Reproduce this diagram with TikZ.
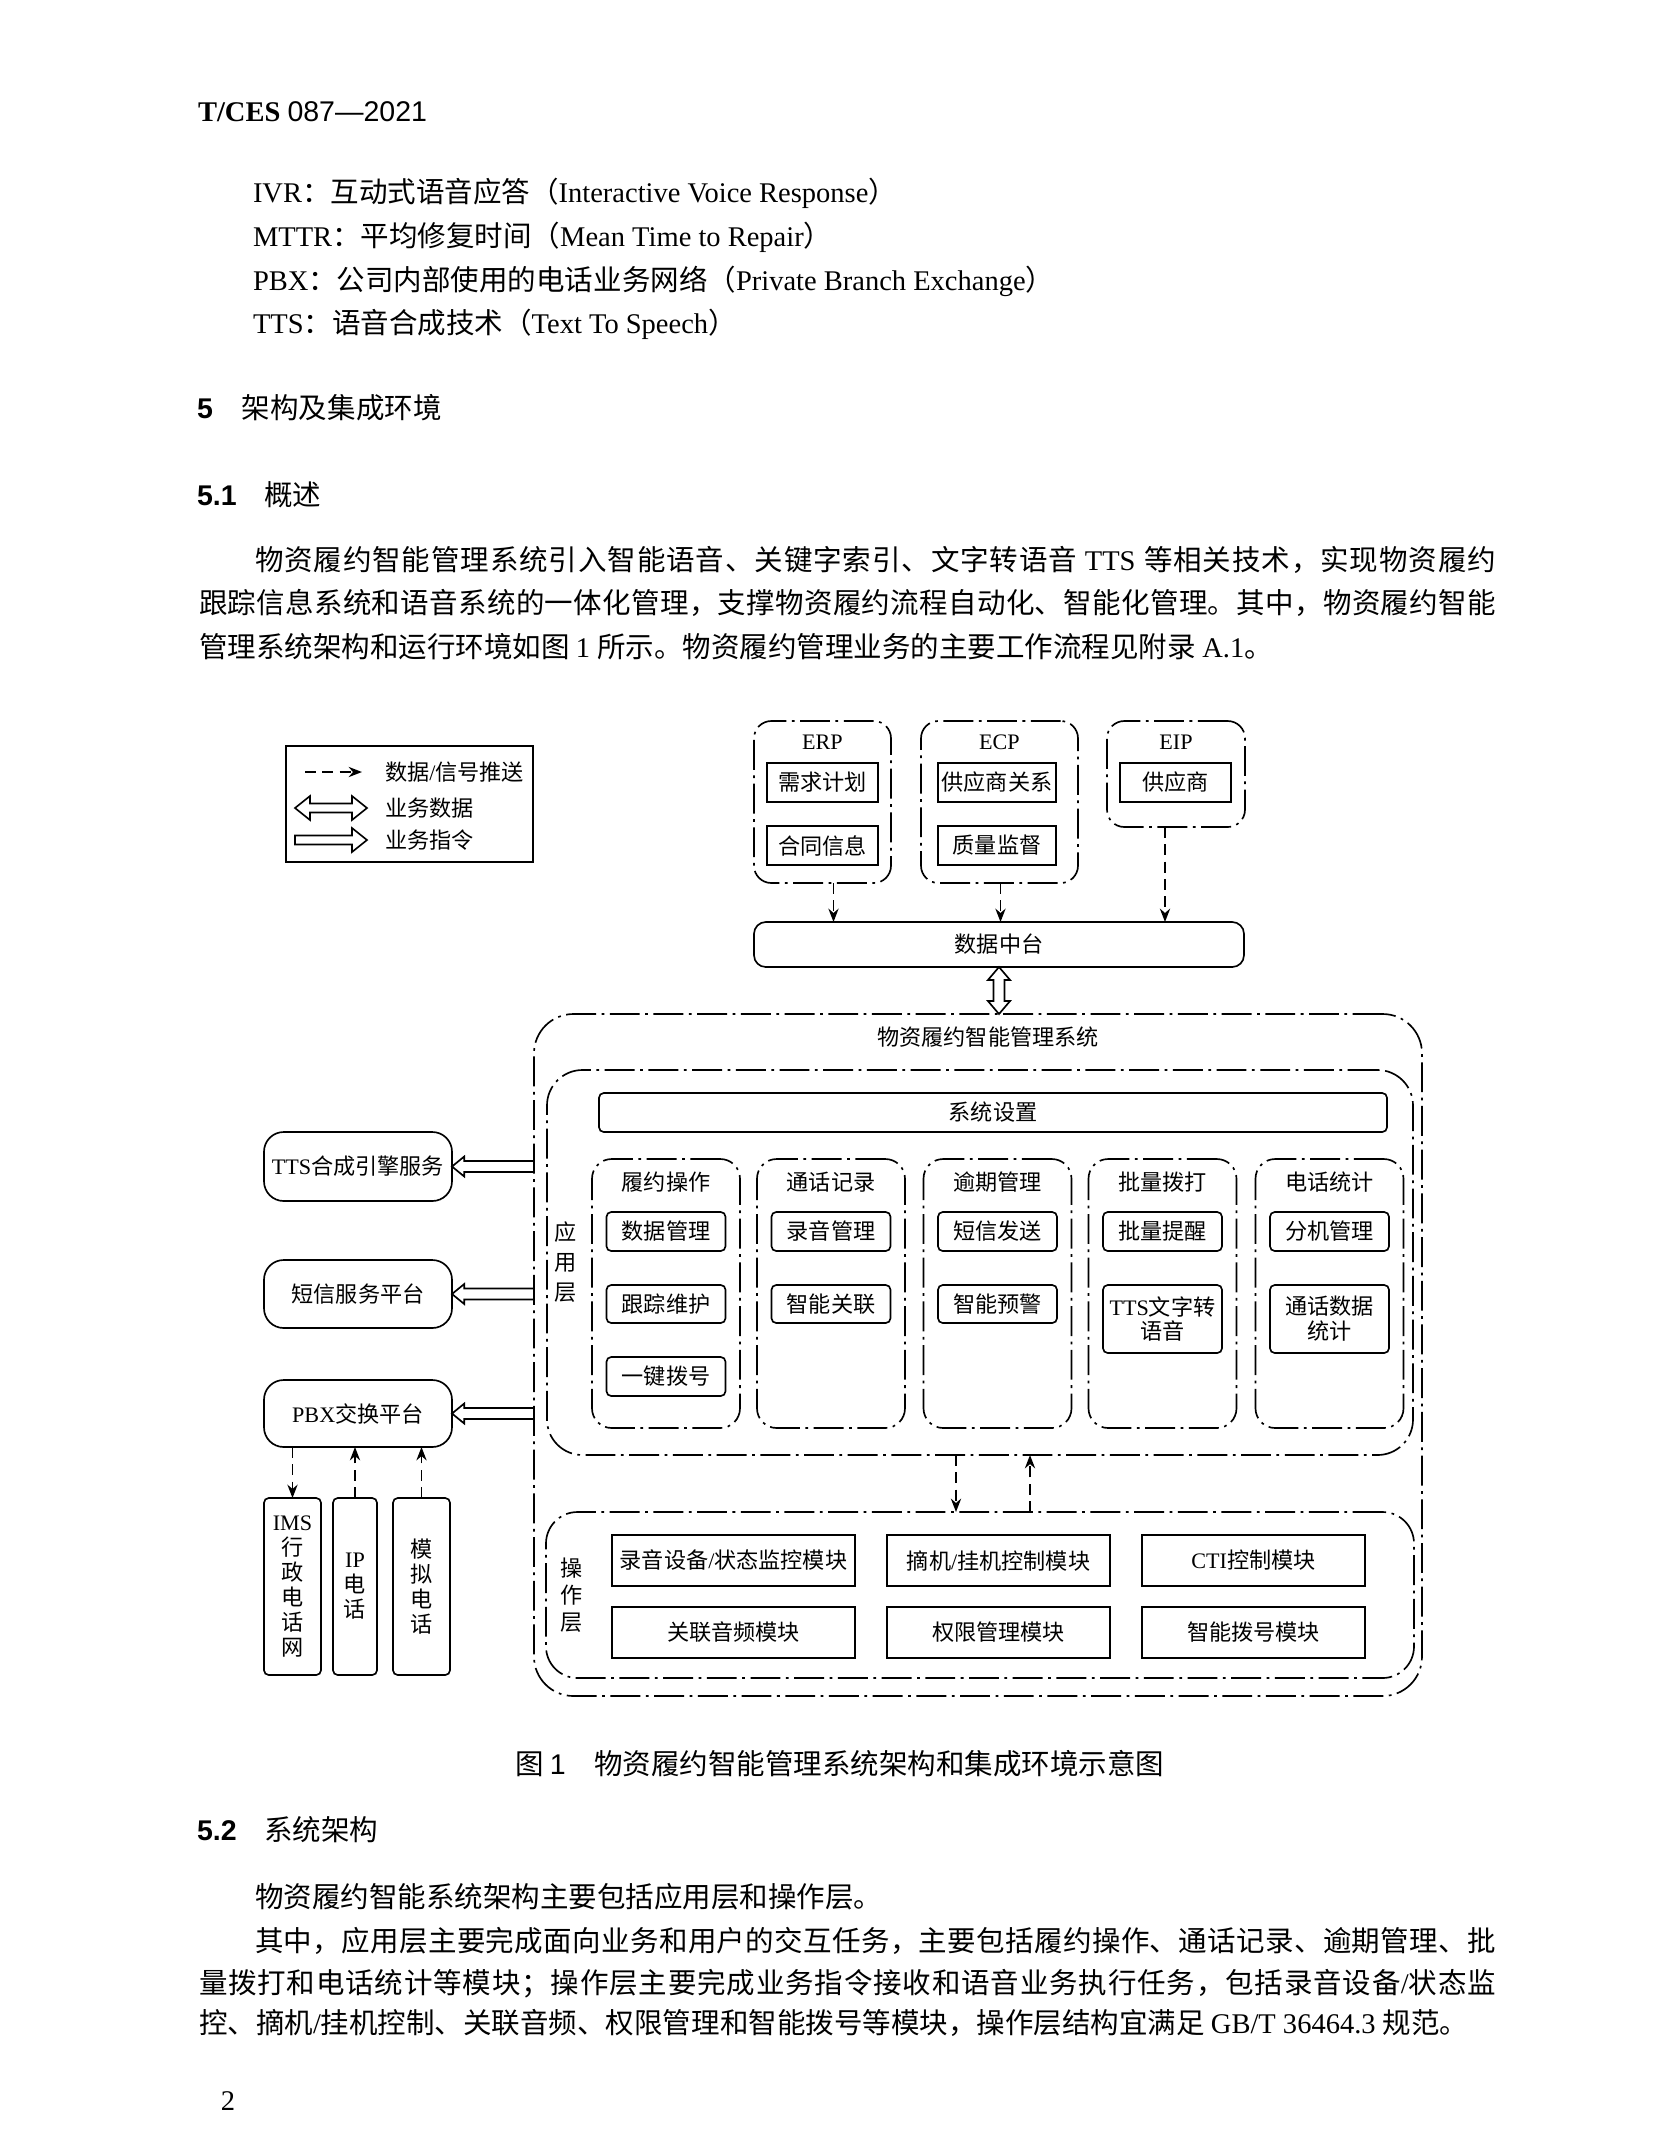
\documentclass[tikz,border=0pt]{standalone}
\usepackage{fontspec}
\setmainfont{Liberation Serif}
\setsansfont{Liberation Sans}
\newfontfamily\cjkfont{Noto Sans CJK SC}
\newcommand\latfam{\rmfamily}
\XeTeXinterchartokenstate=1
\newXeTeXintercharclass\cjkcls
\newcount\cjkcnt
\newcommand\setcjkrange[2]{\cjkcnt=#1\relax
  \loop\XeTeXcharclass\cjkcnt=\cjkcls\relax
  \ifnum\cjkcnt<#2\relax\advance\cjkcnt by 1\relax\repeat}
\setcjkrange{"3000}{"303F}
\setcjkrange{"4E00}{"9FFF}
\setcjkrange{"FF00}{"FFEF}
\XeTeXinterchartoks 0 \cjkcls = {\cjkfont}
\XeTeXinterchartoks 4095 \cjkcls = {\cjkfont}
\XeTeXinterchartoks \cjkcls 0 = {\latfam}
\XeTeXinterchartoks 4095 0 = {\latfam}
\XeTeXinterchartoks \cjkcls \cjkcls = {\hskip 0pt plus 0.8pt\relax}
\usetikzlibrary{arrows.meta,calc}
\newcommand\bfnt{\fontsize{10.3pt}{12pt}\selectfont}
\newcommand\hfnt{\def\latfam{\sffamily}\sffamily\fontsize{10.3pt}{12pt}\selectfont}
\newcommand\openL[2]{\draw[ln] let \p1=#1, \p2=#2 in
  (\x2,\y1+2pt) -- (\x1+4.4pt,\y1+2pt) -- (\x1+4.4pt,\y1+3.6pt) -- (\x1,\y1)
  -- (\x1+4.4pt,\y1-3.6pt) -- (\x1+4.4pt,\y1-2pt) -- (\x2,\y1-2pt);}
\begin{document}
\begin{tikzpicture}[x=0.127mm,y=-0.127mm,
  every node/.style={inner sep=0pt,outer sep=0pt},
  ln/.style={line width=0.6pt},
  sz/.style 2 args={minimum width={#1*0.127mm},minimum height={#2*0.127mm}},
  dfnt/.style={font=\fontsize{8pt}{9pt}\selectfont},
  sbox/.style={draw,ln,dfnt,align=center},
  ibox/.style={sbox,rounded corners=0.6mm},
  ddash/.style={ln,dash pattern=on 3.8mm off 0.7mm on 0.35mm off 0.7mm},
  grp/.style={draw,ddash,rounded corners=2.2mm},
  dar/.style={ln,dash pattern=on 1.4mm off 0.8mm,-{Stealth[length=1.7mm,width=1.3mm]}},
  tl/.style={anchor=west,text height=9.06pt,text depth=1.24pt,font=\bfnt}]
\fill[white] (0,0) rectangle (1654,2148);
\useasboundingbox (0,0) rectangle (1654,2148);

% ---------- page text ----------
\node[tl] (hdr) at (198,111) {{\bfseries T/CES} {\def\latfam{\sffamily}\sffamily 087—2021}};
\node[tl] (ab1) at (253,192) {IVR：互动式语音应答（Interactive Voice Response）};
\node[tl] (ab2) at (253,236) {MTTR：平均修复时间（Mean Time to Repair）};
\node[tl] (ab3) at (253,280) {PBX：公司内部使用的电话业务网络（Private Branch Exchange）};
\node[tl] (ab4) at (253,323) {TTS：语音合成技术（Text To Speech）};
\node[tl,font=\hfnt] (h5) at (197,408) {{\bfseries 5}\hspace{3.7mm}架构及集成环境};
\node[tl,font=\hfnt] (h51) at (197,495) {{\bfseries 5.1}\hspace{3.5mm}概述};
\node[tl] (p1) at (255,560) {\makebox[157.6mm][s]{物资履约智能管理系统引入智能语音、关键字索引、文字转语音 TTS 等相关技术，实现物资履约}};
\node[tl] (p2) at (199,603) {\makebox[164.7mm][s]{跟踪信息系统和语音系统的一体化管理，支撑物资履约流程自动化、智能化管理。其中，物资履约智能}};
\node[tl] (p3) at (199,647) {管理系统架构和运行环境如图 1 所示。物资履约管理业务的主要工作流程见附录 A.1。};
\node[tl,font=\hfnt] (cap) at (515,1764) {图 1\hspace{1em}物资履约智能管理系统架构和集成环境示意图};
\node[tl,font=\hfnt] (h52) at (197,1830) {{\bfseries 5.2}\hspace{3.5mm}系统架构};
\node[tl] (q1) at (255,1897) {物资履约智能系统架构主要包括应用层和操作层。};
\node[tl] (q2) at (255,1941) {\makebox[157.6mm][s]{其中，应用层主要完成面向业务和用户的交互任务，主要包括履约操作、通话记录、逾期管理、批}};
\node[tl] (q3) at (199,1983) {\makebox[164.7mm][s]{量拨打和电话统计等模块；操作层主要完成业务指令接收和语音业务执行任务，包括录音设备/状态监}};
\node[tl] (q4) at (199,2023) {控、摘机/挂机控制、关联音频、权限管理和智能拨号等模块，操作层结构宜满足 GB/T 36464.3 规范。};
\node[font=\bfnt] (pg) at (228,2101) {2};

% ---------- legend ----------
\node[draw,ln,sz={247}{116}] (leg) at (409.5,804) {};
\coordinate (l1a) at (305,772); \coordinate (l1b) at (362,772);
\draw[dar] (l1a) -- (l1b);
\coordinate (l2) at (295,808);
\draw[ln] (l2) -- ++(15,-12) -- ++(0,7.5) -- ++(42,0) -- ++(0,-7.5) -- ++(15,12)
  -- ++(-15,12) -- ++(0,-7.5) -- ++(-42,0) -- ++(0,7.5) -- cycle;
\coordinate (l3) at (295,840);
\draw[ln] (l3) ++(0,-4.5) -- ++(57,0) -- ++(0,-7.5) -- ++(15,12) -- ++(-15,12)
  -- ++(0,-7.5) -- ++(-57,0) -- cycle;
\node[anchor=west,dfnt] (lt1) at (385,772) {数据/信号推送};
\node[anchor=west,dfnt] (lt2) at (385,808) {业务数据};
\node[anchor=west,dfnt] (lt3) at (385,840) {业务指令};

% ---------- top systems ----------
\node[grp,sz={137}{162}] (erp) at (822.5,802) {};
\node[dfnt] (erpl) at (822.5,742) {ERP};
\node[sbox,sz={111}{39}] (erp1) at (822.5,782.5) {需求计划};
\node[sbox,sz={111}{39}] (erp2) at (822.5,845.5) {合同信息};
\node[grp,sz={157}{162}] (ecp) at (999.5,802) {};
\node[dfnt] (ecpl) at (999.5,742) {ECP};
\node[sbox,sz={118}{39}] (ecp1) at (997,782.5) {供应商关系};
\node[sbox,sz={118}{39}] (ecp2) at (997,845.5) {质量监督};
\node[grp,sz={138}{106}] (eip) at (1176,774) {};
\node[dfnt] (eipl) at (1176,742) {EIP};
\node[sbox,sz={111}{39}] (eip1) at (1175.5,782.5) {供应商};
\node[sbox,rounded corners=1.5mm,sz={490}{45}] (dz) at (999,944.5) {数据中台};
\coordinate (ea) at ($(erp.south)+(11,0)$);
\coordinate (ca) at ($(ecp.south)+(1,0)$);
\coordinate (ia) at ($(eip.south)+(-11,0)$);
\draw[dar] (ea) -- (ea |- dz.north);
\draw[dar] (ca) -- (ca |- dz.north);
\draw[dar] (ia) -- (ia |- dz.north);

% ---------- main system ----------
\node[draw,ddash,rounded corners=5mm,sz={888}{682}] (sys) at (978,1355) {};
\draw[ln] let \p1=(dz.south), \p2=(sys.north) in
  (\x1,\y1) -- (\x1+4pt,\y1-4.7pt) -- (\x1+2pt,\y1-4.7pt) -- (\x1+2pt,\y2+4.7pt)
  -- (\x1+4pt,\y2+4.7pt) -- (\x1,\y2) -- (\x1-4pt,\y2+4.7pt) -- (\x1-2pt,\y2+4.7pt)
  -- (\x1-2pt,\y1-4.7pt) -- (\x1-4pt,\y1-4.7pt) -- cycle;
\node[dfnt] (syst) at (988,1037) {物资履约智能管理系统};
\node[draw,ddash,rounded corners=4.5mm,sz={866}{385}] (app) at (980,1262.5) {};
\node[font=\fontsize{8pt}{10.7pt}\selectfont,align=center] (appl) at (566,1262) {应\\用\\层};
\node[ibox,sz={788}{39}] (set) at (993,1112.5) {系统设置};

\node[grp,rounded corners=2.5mm,sz={148}{269}] (g1) at (666,1293.5) {};
\node[dfnt] (g1t) at (666,1182) {履约操作};
\node[ibox,sz={119}{39}] (g1a) at (666,1231.5) {数据管理};
\node[ibox,sz={119}{38}] (g1b) at (666,1304) {跟踪维护};
\node[ibox,sz={119}{39}] (g1c) at (666,1376.5) {一键拨号};

\node[grp,rounded corners=2.5mm,sz={148}{269}] (g2) at (831,1293.5) {};
\node[dfnt] (g2t) at (831,1182) {通话记录};
\node[ibox,sz={119}{39}] (g2a) at (831,1231.5) {录音管理};
\node[ibox,sz={119}{38}] (g2b) at (831,1304) {智能关联};

\node[grp,rounded corners=2.5mm,sz={148}{269}] (g3) at (997.5,1293.5) {};
\node[dfnt] (g3t) at (997.5,1182) {逾期管理};
\node[ibox,sz={119}{39}] (g3a) at (997.5,1231.5) {短信发送};
\node[ibox,sz={119}{38}] (g3b) at (997.5,1304) {智能预警};

\node[grp,rounded corners=2.5mm,sz={148}{269}] (g4) at (1162.5,1293.5) {};
\node[dfnt] (g4t) at (1162.5,1182) {批量拨打};
\node[ibox,sz={119}{39}] (g4a) at (1162.5,1231.5) {批量提醒};
\node[ibox,sz={119}{68}] (g4b) at (1162.5,1319) {TTS文字转\\语音};

\node[grp,rounded corners=2.5mm,sz={148}{269}] (g5) at (1329.5,1293.5) {};
\node[dfnt] (g5t) at (1329.5,1182) {电话统计};
\node[ibox,sz={119}{39}] (g5a) at (1329.5,1231.5) {分机管理};
\node[ibox,sz={119}{68}] (g5b) at (1329.5,1319) {通话数据\\统计};

\node[draw,ddash,rounded corners=4mm,sz={868}{166}] (op) at (980,1595) {};
\node[font=\fontsize{8pt}{9.7pt}\selectfont,align=center] (opl) at (572,1595) {操\\作\\层};
\coordinate (da) at ($(app.south)+(-24,0)$);
\coordinate (ua) at ($(app.south)+(50,0)$);
\draw[dar] (da) -- (da |- op.north);
\draw[dar] (ua |- op.north) -- (ua);

\node[sbox,sz={243}{51}] (m1) at (733.5,1560.5) {录音设备/状态监控模块};
\node[sbox,sz={223}{51}] (m2) at (998.5,1560.5) {摘机/挂机控制模块};
\node[sbox,sz={223}{51}] (m3) at (1253.5,1560.5) {CTI控制模块};
\node[sbox,sz={243}{51}] (m4) at (733.5,1632.5) {关联音频模块};
\node[sbox,sz={223}{51}] (m5) at (998.5,1632.5) {权限管理模块};
\node[sbox,sz={223}{51}] (m6) at (1253.5,1632.5) {智能拨号模块};

% ---------- left side ----------
\node[sbox,rounded corners=2.5mm,sz={188}{69}] (tts) at (358,1166.5) {TTS合成引擎服务};
\node[sbox,rounded corners=2.5mm,sz={188}{68}] (sms) at (358,1294) {短信服务平台};
\node[sbox,rounded corners=2.5mm,sz={188}{67}] (pbx) at (358,1413.5) {PBX交换平台};
\openL{(tts.east)}{(sys.west)}
\openL{(sms.east)}{(sys.west)}
\openL{(pbx.east)}{(sys.west)}
\node[sbox,rounded corners=0.6mm,sz={57}{177}] (ims) at (292.5,1586.5) {IMS\\行\\政\\电\\话\\网};
\node[sbox,rounded corners=0.6mm,sz={44}{177}] (ip) at (355,1586.5) {IP\\电\\话};
\node[sbox,rounded corners=0.6mm,sz={57}{177}] (mn) at (421.5,1586.5) {模\\拟\\电\\话};
\draw[dar] (ims.north |- pbx.south) -- (ims.north);
\draw[dar] (ip.north) -- (ip.north |- pbx.south);
\draw[dar] (mn.north) -- (mn.north |- pbx.south);
\end{tikzpicture}
\end{document}
